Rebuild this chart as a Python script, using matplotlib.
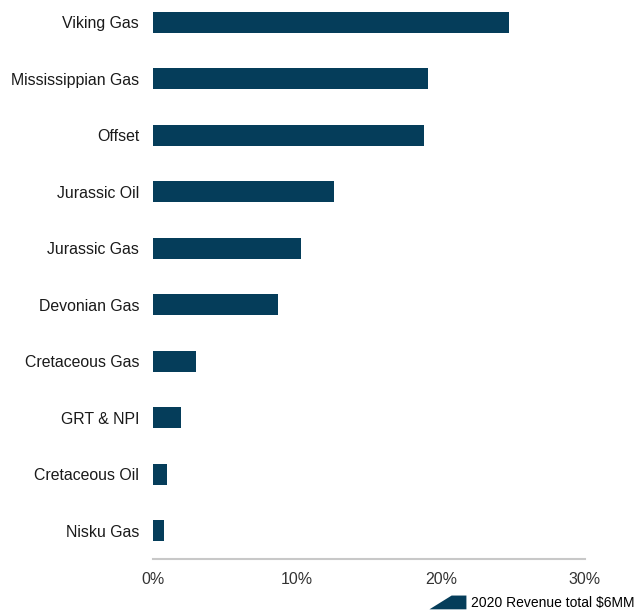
import matplotlib
matplotlib.use("Agg")
import matplotlib.pyplot as plt
from matplotlib.patches import Polygon, Patch
from matplotlib.legend_handler import HandlerPatch

categories = ["Viking Gas", "Mississippian Gas", "Offset", "Jurassic Oil", "Jurassic Gas",
              "Devonian Gas", "Cretaceous Gas", "GRT & NPI", "Cretaceous Oil", "Nisku Gas"]
values = [24.7, 19.1, 18.8, 12.6, 10.3, 8.7, 3.0, 1.95, 1.0, 0.75]
xticks = [0, 10, 20, 30]
xtick_labels = ["0%", "10%", "20%", "30%"]
legend_label = "2020 Revenue total $6MM"

color = "#053D5A"
plt.rcParams['font.family'] = ['Liberation Sans', 'DejaVu Sans']

fig = plt.figure(figsize=(6.37, 6.11), dpi=100)
W, H = 637, 611
ax = fig.add_axes([153 / W, 1 - 559 / H, (585 - 153) / W, 559 / H])

y = list(range(len(categories)))
ax.barh(y, values, height=0.37, color=color)
ax.set_ylim(9.5, 9.5 - 559 / 56.5)
ax.set_xlim(0, 30)
ax.set_yticks(y)
ax.set_yticklabels(categories, fontsize=11.4, color="#1a1a1a")
ax.set_xticks(xticks)
ax.set_xticklabels(xtick_labels, fontsize=11.5, color="#333333")
ax.tick_params(length=0, pad=10, axis='y')
ax.tick_params(length=0, pad=9, axis='x')
for s in ["top", "right", "left"]:
    ax.spines[s].set_visible(False)
ax.spines["bottom"].set_color("#c8c8c8")
ax.spines["bottom"].set_linewidth(1.5)


class TrapHandler(HandlerPatch):
    def create_artists(self, legend, orig_handle, xdescent, ydescent, width, height, fontsize, trans):
        x0, y0 = -xdescent, -ydescent
        pts = [(x0, y0), (x0 + 0.6 * width, y0 + height), (x0 + width, y0 + height), (x0 + width, y0)]
        p = Polygon(pts, closed=True, facecolor=color, edgecolor='none', transform=trans)
        return [p]


h = Patch(facecolor=color)
fig.legend([h], [legend_label], loc="lower right", bbox_to_anchor=(1.0, -0.002),
           frameon=False, fontsize=10, handler_map={Patch: TrapHandler()},
           handlelength=2.66, handleheight=1.15, handletextpad=0.36,
           borderaxespad=0.0, borderpad=0.15)

fig.savefig("out.png", dpi=100)
